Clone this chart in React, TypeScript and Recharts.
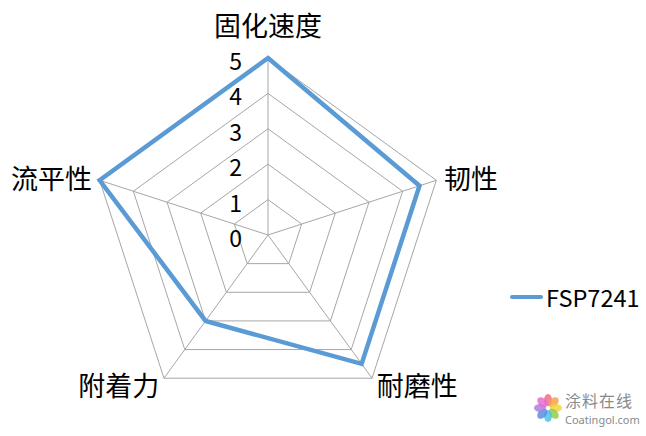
import { Legend, PolarAngleAxis, PolarGrid, PolarRadiusAxis, Radar, RadarChart } from "recharts";

const attributes = ["固化速度", "韧性", "耐磨性", "附着力", "流平性"];
const fsp7241 = [5, 4.5, 4.5, 3, 5];
const radiusTicks = [0, 1, 2, 3, 4, 5];

const chartData = attributes.map((name, i) => ({ name, FSP7241: fsp7241[i] }));

const FONT = '"Noto Sans CJK SC", "Noto Sans", sans-serif';
const BLUE = "#5b9bd5";

function AngleTick(props: any) {
  const { x, y, textAnchor, payload } = props;
  const shiftY = textAnchor === "middle" ? -26 : 0;
  return (
    <text
      x={x}
      y={y + shiftY}
      textAnchor={textAnchor}
      dominantBaseline="central"
      fontSize={27}
      fontFamily={FONT}
      fill="#000"
    >
      {payload.value}
    </text>
  );
}

function RadiusTick(props: any) {
  const { x, y, payload } = props;
  return (
    <text
      x={x - 26}
      y={y + 2}
      textAnchor="end"
      dominantBaseline="central"
      fontSize={23}
      fontFamily={FONT}
      fill="#000"
    >
      {payload.value}
    </text>
  );
}

function LegendContent() {
  return (
    <div style={{ display: "flex", alignItems: "center", fontFamily: FONT }}>
      <span
        style={{
          display: "inline-block",
          width: 33,
          height: 4,
          borderRadius: 2,
          background: BLUE,
          marginRight: 3,
        }}
      />
      <span style={{ fontSize: 23.5, color: "#000" }}>FSP7241</span>
    </div>
  );
}

const petalColors = ["#f06c8c", "#f7a24a", "#f5d33f", "#8fcf4f", "#4fc3e8", "#5b8fe0", "#b07ee0", "#e86ad0"];

function Watermark() {
  return (
    <div
      style={{
        position: "absolute",
        left: 534,
        top: 389,
        display: "flex",
        alignItems: "center",
        gap: 3,
        fontFamily: FONT,
        color: "#8a8a8a",
      }}
    >
      <svg width={28} height={30} viewBox="-14 -15 28 30">
        {petalColors.map((c, i) => (
          <ellipse
            key={c}
            cx={0}
            cy={-8}
            rx={4}
            ry={6}
            fill={c}
            opacity={0.85}
            transform={`rotate(${i * 45})`}
          />
        ))}
      </svg>
      <div>
        <div style={{ fontSize: 16, lineHeight: "23px", letterSpacing: 1 }}>涂料在线</div>
        <div style={{ fontSize: 11, lineHeight: "15px", fontFamily: '"Noto Sans", sans-serif' }}>
          Coatingol.com
        </div>
      </div>
    </div>
  );
}

export default function App() {
  return (
    <div style={{ position: "absolute", left: 0, top: 0, width: 646, height: 436, background: "#fff" }}>
      <RadarChart
        width={646}
        height={436}
        data={chartData}
        cx={268}
        cy={235}
        outerRadius={177}
        margin={{ top: 0, right: 0, bottom: 0, left: 0 }}
      >
        <PolarGrid gridType="polygon" stroke="#a6a6a6" strokeWidth={1} />
        <PolarAngleAxis dataKey="name" tick={<AngleTick />} tickLine={false} axisLine={false} />
        <PolarRadiusAxis
          angle={90}
          domain={[0, 5]}
          ticks={radiusTicks as any}
          tickCount={6}
          axisLine={false}
          tick={<RadiusTick />}
        />
        <Radar
          name="FSP7241"
          dataKey="FSP7241"
          stroke={BLUE}
          strokeWidth={4.5}
          fill="none"
          fillOpacity={0}
          dot={false}
          isAnimationActive={false}
        />
        <Legend
          content={<LegendContent />}
          wrapperStyle={{ position: "absolute", left: 510, top: 280, width: "auto", height: "auto" }}
        />
      </RadarChart>
      <Watermark />
    </div>
  );
}
